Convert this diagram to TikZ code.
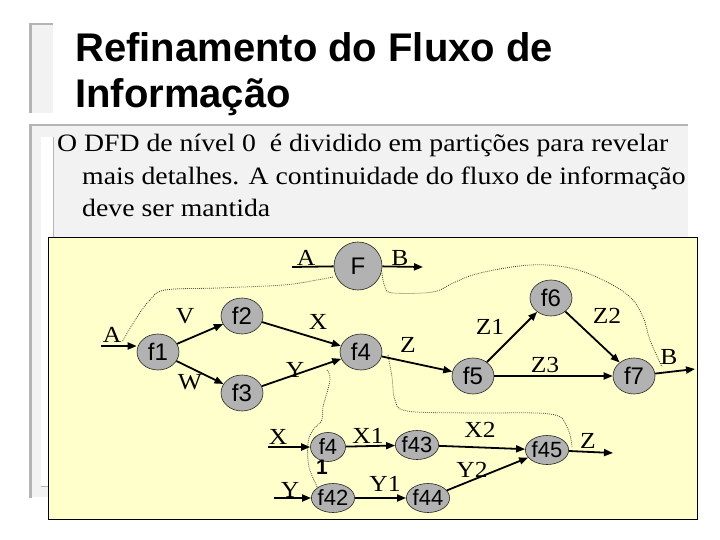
\documentclass[tikz,border=0pt]{standalone}
\usepackage{fontspec}
\setmainfont{Liberation Serif}
\newfontfamily\arialf{Liberation Sans}
\newfontfamily\widef[FakeStretch=1.11]{Liberation Serif}
\usetikzlibrary{arrows.meta,shapes.geometric}
\definecolor{bordergray}{HTML}{B4B4B4}
\definecolor{panelgray}{HTML}{F2F2F2}
\definecolor{noteyellow}{HTML}{FFFFCC}
\definecolor{procgray}{HTML}{B2B2B2}
\begin{document}
\begin{tikzpicture}[x=1pt,y=-1pt,
  proc/.style={ellipse, draw=black!85, line width=0.6pt, fill=procgray, minimum width=42pt, minimum height=36pt, inner sep=0pt, font=\arialf\fontsize{24}{24}\selectfont},
  sproc/.style={proc, minimum width=35pt, minimum height=29pt, font=\arialf\fontsize{22}{22}\selectfont},
  flow/.style={-{Triangle[length=9pt,width=7pt]}, line width=1.8pt},
  line/.style={line width=1.8pt},
  lbl/.style={font=\widef\fontsize{23}{23}\selectfont, inner sep=0pt},
  dot/.style={dash pattern=on 0.8pt off 1.2pt, line width=0.8pt, draw=black!80},
  bodytext/.style={anchor=base west, inner sep=0pt, font=\widef\fontsize{25}{25}\selectfont}
]
\useasboundingbox (0,0) rectangle (720,540);
\fill[white] (0,0) rectangle (720,540);
% title panel
\fill[panelgray] (29,23) rectangle (53,113);
\fill[bordergray] (29,23) rectangle (32,113);
\fill[bordergray] (29,23) rectangle (53,25);
\node[anchor=base west, inner sep=0pt, font=\arialf\bfseries\fontsize{40}{40}\selectfont] (t1) at (75,62) {Refinamento do Fluxo de};
\node[anchor=base west, inner sep=0pt, font=\arialf\bfseries\fontsize{40}{40}\selectfont] (t2) at (75,108) {Informação};
% body panel
\fill[panelgray] (29,124) rectangle (688,497);
\fill[bordergray] (29,124) rectangle (688,126.5);
\fill[bordergray] (29,124) rectangle (32,498);
\fill[white] (41,137) rectangle (53,486);
\draw[bordergray, line width=0.8pt] (53,137) -- (53,486) -- (41,486);
\node[bodytext] (b1) at (57,152) {O DFD de nível 0\ \ é dividido em partições para revelar};
\node[bodytext] (b2) at (82,185) {mais detalhes. A continuidade do fluxo de informação};
\node[bodytext] (b3) at (82,217) {deve ser mantida};
% yellow box
\draw[fill=noteyellow, line width=1pt] (48,237) rectangle (697,519);
% dotted partitions
\draw[dot] plot[smooth, tension=0.6] coordinates {(333,277) (317,280) (283,285) (217,288) (165,290) (150,300) (137,317) (122,342)};
\draw[dot] plot[smooth, tension=0.6] coordinates {(382,273) (385,287) (393,293) (433,292) (453,283) (480,273) (530,265) (570,268) (603,280) (630,297) (643,317) (650,340) (662,367)};
\draw[dot] plot[smooth, tension=0.6] coordinates {(388,355) (392,377) (395,400) (407,411) (470,413) (550,414) (567,427) (572,447)};
\draw[dot] plot[smooth, tension=0.6] coordinates {(327,370) (330,380) (323,407) (322,420) (313,430) (308,443) (309,467) (317,487) (318,497)};
% level-0 process
\node[proc, circle, minimum size=48pt] (F) at (358,266) {F};
\coordinate (Fin) at (292,267);
\coordinate (Fout) at (423,267);
\draw[line] (Fin) -- (F);
\draw[flow] (F) -- (Fout);
\node[lbl] (lA0) at (306,258) {A};
\node[lbl] (lB0) at (400,258) {B};
% level-1 processes
\node[proc] (f1) at (158,352) {f1};
\node[proc] (f2) at (242,316) {f2};
\node[proc] (f3) at (242,393) {f3};
\node[proc] (f4) at (361,352) {f4};
\node[proc] (f5) at (473,376) {f5};
\node[proc] (f6) at (551,298) {f6};
\node[proc] (f7) at (634,376) {f7};
\coordinate (Ain) at (101,346);
\coordinate (Bout) at (695,369);
\draw[flow] (Ain) -- (f1.west|-Ain);
\draw[flow] (f1) -- (f2);
\draw[flow] (f1) -- (f3);
\draw[flow] (f2) -- (f4);
\draw[flow] (f3) -- (f4);
\draw[flow] (f4) -- (f5);
\draw[flow] (f5) -- (f6);
\draw[flow] (f6) -- (f7);
\draw[flow] (f5) -- (f7);
\draw[flow] (f7) -- (Bout);
\node[lbl] (lA1) at (112,335) {A};
\node[lbl] (lV) at (185,316) {V};
\node[lbl] (lW) at (190,382) {W};
\node[lbl] (lX) at (318,322) {X};
\node[lbl] (lY) at (295,370) {Y};
\node[lbl] (lZ) at (408,345) {Z};
\node[lbl] (lZ1) at (490,327) {Z1};
\node[lbl] (lZ2) at (607,316) {Z2};
\node[lbl] (lZ3) at (545,365) {Z3};
\node[lbl] (lB1) at (669,357) {B};
% level-2 processes
\node[sproc] (f41) at (328,447) {f4};
\node[font=\arialf\bfseries\fontsize{21}{21}\selectfont, inner sep=0pt] (one) at (322,467) {1};
\node[sproc] (f43) at (417,445) {f43};
\node[sproc] (f45) at (547,450) {f45};
\node[sproc] (f42) at (333,498) {f42};
\node[sproc] (f44) at (428,498) {f44};
\coordinate (Xin) at (268,447);
\coordinate (Yin) at (274,498);
\coordinate (Zout) at (613,453);
\draw[flow] (Xin) -- (f41);
\draw[flow] (f41) -- (f43);
\draw[flow] (f43) -- (f45);
\draw[flow] (f45) -- (Zout);
\draw[flow] (Yin) -- (f42);
\draw[flow] (f42) -- (f44);
\draw[flow] (f44) -- (f45);
\node[lbl] (lX0) at (278,437) {X};
\node[lbl] (lX1) at (368,436) {X1};
\node[lbl] (lX2) at (480,430) {X2};
\node[lbl] (lZb) at (588,441) {Z};
\node[lbl] (lY0) at (290,490) {Y};
\node[lbl] (lY1) at (385,484) {Y1};
\node[lbl] (lY2) at (472,470) {Y2};
\end{tikzpicture}
\end{document}
